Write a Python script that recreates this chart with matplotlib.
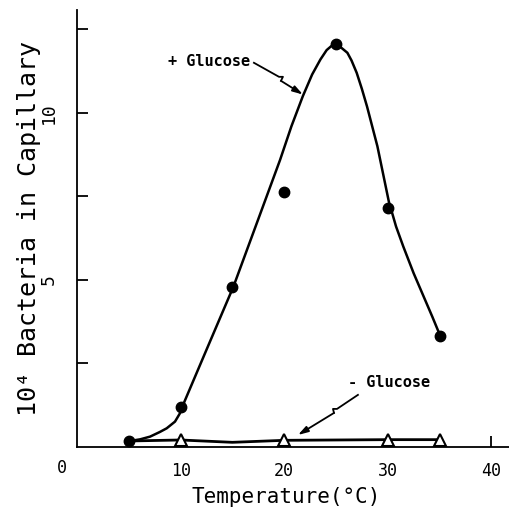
import matplotlib
matplotlib.use("Agg")
import matplotlib.pyplot as plt

plt.rcParams["font.family"] = ["DejaVu Sans Mono", "DejaVu Sans"]

# measured points, + glucose (filled circles)
glu_x = [5, 10, 15, 20, 25, 30, 35]
glu_y = [0.18, 1.21, 4.8, 7.63, 12.05, 7.16, 3.32]

# hand-drawn smooth curve through the + glucose data
curve_x = [5.1, 6.1, 7.05, 8.0, 8.66, 9.46, 9.94, 10.17, 12.5, 15.1, 17.5, 19.6,
           20.7, 21.8, 22.7, 23.5, 24.1, 24.7, 25.4, 26.1, 26.5, 27.0, 27.5,
           28.0, 29.0, 29.6, 30.1, 30.8, 31.5, 32.5, 33.4, 34.3, 35.1]
curve_y = [0.18, 0.23, 0.31, 0.45, 0.56, 0.76, 1.01, 1.21, 2.91, 4.8, 6.82, 8.59,
           9.6, 10.5, 11.15, 11.6, 11.88, 12.04, 11.98, 11.8, 11.57, 11.2, 10.72,
           10.19, 9.0, 8.1, 7.35, 6.6, 6.0, 5.2, 4.55, 3.9, 3.3]

# - glucose (open triangles) and its line
noglu_x = [10, 20, 30, 35]
noglu_y = [0.21, 0.2, 0.22, 0.22]
noglu_line_x = [5, 10, 15, 20, 30, 35]
noglu_line_y = [0.18, 0.21, 0.14, 0.2, 0.22, 0.22]

x_ticks = [10, 20, 30, 40]
y_ticks = [2.5, 5, 7.5, 10, 12.5]
y_tick_labels = ["", "5", "", "10", ""]

fig = plt.figure(figsize=(5.10, 5.08), dpi=100)
ax = fig.add_axes([77 / 510, 61 / 508, 433 / 510, 437 / 508])
ax.set_xlim(0, 41.8)
ax.set_ylim(0, 13.08)

for s in ["top", "right"]:
    ax.spines[s].set_visible(False)
for s in ["left", "bottom"]:
    ax.spines[s].set_linewidth(1.3)

ax.plot(curve_x, curve_y, color="black", lw=1.8, solid_joinstyle="round", zorder=3)
ax.plot(glu_x, glu_y, "o", color="black", ms=7.5, zorder=4)

ax.plot(noglu_line_x, noglu_line_y, color="black", lw=2.0, zorder=3)
ax.plot(noglu_x, noglu_y, "^", mfc="white", mec="black", mew=1.5, ms=9, zorder=4)

ax.set_xticks(x_ticks)
ax.set_xticklabels([str(v) for v in x_ticks])
ax.set_yticks(y_ticks)
ax.set_yticklabels(y_tick_labels)
ax.tick_params(axis="both", direction="in", length=8, width=1.3, labelsize=12)
ax.tick_params(axis="x", pad=11)
ax.tick_params(axis="y", pad=14, labelrotation=90, labelsize=13)
for lab in ax.get_yticklabels():
    lab.set_va("center")

# lone "0" at the origin, set left of the corner
fig.text(62 / 510, 1 - 468 / 508, "0", ha="center", va="center", fontsize=12)

# labels with zigzag leader arrows
ax.text(16.75, 11.53, "+ Glucose", ha="right", va="center", fontsize=11, fontweight="bold")
ax.plot([17.08, 19.50, 19.88, 19.69], [11.50, 11.08, 11.08, 10.96], color="black", lw=1.3)
ax.annotate("", xy=(21.81, 10.55), xytext=(19.69, 10.96),
            arrowprops=dict(arrowstyle="-|>,head_length=0.6,head_width=0.18",
                            color="black", lw=1.3, shrinkA=0, shrinkB=0))

ax.text(26.2, 1.92, "- Glucose", ha="left", va="center", fontsize=11, fontweight="bold")
ax.plot([27.12, 25.10, 24.71, 24.81], [1.56, 1.14, 1.14, 1.02], color="black", lw=1.3)
ax.annotate("", xy=(21.33, 0.36), xytext=(24.81, 1.02),
            arrowprops=dict(arrowstyle="-|>,head_length=0.6,head_width=0.18",
                            color="black", lw=1.3, shrinkA=0, shrinkB=0))

fig.text(286 / 510, 1 - 497 / 508, "Temperature(°C)", ha="center", va="center", fontsize=15)
fig.text(29 / 510, 1 - 228 / 508, "10⁴ Bacteria in Capillary", ha="center", va="center",
         rotation=90, fontsize=18)

fig.savefig("out.png", dpi=100)
